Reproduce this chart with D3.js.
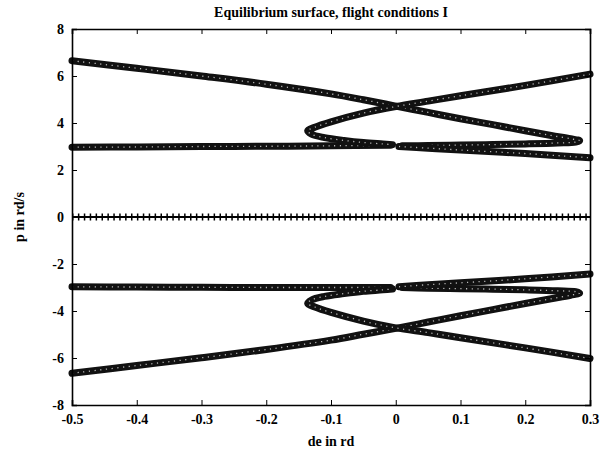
<!DOCTYPE html>
<html>
<head>
<meta charset="utf-8">
<script src="https://cdn.jsdelivr.net/npm/d3@7"></script>
<style>
  body { margin: 0; background: #fff; }
  svg text { font-family: "Liberation Serif", "DejaVu Serif", serif; font-weight: bold; fill: #000; }
</style>
</head>
<body>
<div id="visual"></div>
<script>
// axis ticks
const deTicks = [-0.5, -0.4, -0.3, -0.2, -0.1, 0, 0.1, 0.2, 0.3];
const pTicks = [-8, -6, -4, -2, 0, 2, 4, 6, 8];

// p = 0 branch (plotted with + markers)
const zeroDe = [-0.5, 0.3];
const zeroP = [0, 0];

// upper half branches (o markers)
const upA_de = [-0.5, -0.4, -0.3, -0.2, -0.1, -0.05, 0, 0.05, 0.1, 0.15, 0.2, 0.24, 0.27, 0.284, 0.278, 0.25, 0.2, 0.15, 0.1, 0.05, 0.01];
const upA_p  = [6.65, 6.33, 6.0, 5.65, 5.24, 4.99, 4.72, 4.45, 4.18, 3.93, 3.67, 3.47, 3.33, 3.25, 3.19, 3.15, 3.11, 3.08, 3.06, 3.04, 3.03];

const upFlat_de = [-0.5, -0.4, -0.3, -0.2, -0.1, -0.008];
const upFlat_p  = [2.97, 2.98, 3.0, 3.01, 3.03, 3.05];

const upB_de = [0.3, 0.2, 0.1, 0.05, 0, -0.05, -0.1, -0.125, -0.136, -0.13, -0.11, -0.08, -0.05, -0.02, -0.005];
const upB_p  = [6.08, 5.6, 5.16, 4.93, 4.7, 4.42, 4.05, 3.82, 3.67, 3.52, 3.38, 3.26, 3.17, 3.11, 3.08];

const upC_de = [0.005, 0.05, 0.1, 0.2, 0.3];
const upC_p  = [3.0, 2.93, 2.85, 2.7, 2.52];

// lower half branches
const loA_de = [-0.5, -0.4, -0.3, -0.2, -0.1, -0.05, 0, 0.05, 0.1, 0.15, 0.2, 0.24, 0.27, 0.284, 0.278, 0.25, 0.2, 0.15, 0.1, 0.05, 0.01];
const loA_p  = [-6.65, -6.32, -5.99, -5.64, -5.24, -4.99, -4.74, -4.47, -4.2, -3.94, -3.68, -3.48, -3.33, -3.24, -3.18, -3.14, -3.1, -3.07, -3.05, -3.03, -3.0];

const loFlat_de = [-0.5, -0.4, -0.3, -0.2, -0.1, -0.008];
const loFlat_p  = [-2.97, -2.98, -2.99, -3.0, -3.0, -3.0];

const loB_de = [0.3, 0.2, 0.1, 0.05, 0, -0.05, -0.1, -0.125, -0.136, -0.13, -0.11, -0.08, -0.05, -0.02, -0.005];
const loB_p  = [-6.02, -5.57, -5.14, -4.92, -4.72, -4.43, -4.06, -3.83, -3.68, -3.53, -3.38, -3.26, -3.16, -3.1, -3.06];

const loC_de = [0.005, 0.05, 0.1, 0.2, 0.3];
const loC_p  = [-2.97, -2.88, -2.8, -2.63, -2.43];

const circleBranches = [
	[upA_de, upA_p], [upFlat_de, upFlat_p], [upB_de, upB_p], [upC_de, upC_p],
	[loA_de, loA_p], [loFlat_de, loFlat_p], [loB_de, loB_p], [loC_de, loC_p]
];

const width = 601, height = 460;
const margin = { top: 29, right: 11, bottom: 55, left: 72 };

const svg = d3.select("#visual").append("svg")
	.attr("width", width)
	.attr("height", height);

const x = d3.scaleLinear().domain([-0.5, 0.3]).range([margin.left, width - margin.right]);
const y = d3.scaleLinear().domain([-8, 8]).range([height - margin.bottom, margin.top]);

const line = d3.line()
	.x(d => x(d[0]))
	.y(d => y(d[1]))
	.curve(d3.curveCatmullRom.alpha(0.5));

const zip = (a, b) => a.map((v, i) => [v, b[i]]);

// plain hyphen for negatives, like the original plot
const fmtDe = d => d === 0 ? "0" : d3.format(".1f")(d).replace("\u2212", "-");
const fmtP = d => String(d);

// circle-marker branches: thick black chain with small white centres
const marks = svg.append("g");
circleBranches.forEach(([de, p]) => {
	let pts = zip(de, p);
	marks.append("path")
		.attr("d", line(pts))
		.attr("fill", "none")
		.attr("stroke", "#111")
		.attr("stroke-width", 7)
		.attr("stroke-linecap", "round")
		.attr("stroke-linejoin", "round");
	marks.append("path")
		.attr("d", line(pts))
		.attr("fill", "none")
		.attr("stroke", "#fff")
		.attr("stroke-width", 1.3)
		.attr("stroke-dasharray", "1.2 4.5")
		.attr("opacity", 0.7);
});

// + markers along p = 0
let zeroPts = zip(zeroDe, zeroP);
let straight = d3.line().x(d => x(d[0])).y(d => y(d[1]));
marks.append("path")
	.attr("d", straight(zeroPts))
	.attr("stroke", "#000")
	.attr("stroke-width", 2);
marks.append("path")
	.attr("d", straight(zeroPts))
	.attr("stroke", "#000")
	.attr("stroke-width", 7)
	.attr("stroke-dasharray", "1.5 4.4");

// frame + inward ticks (matlab style)
const tickLen = 5;
svg.append("g")
	.attr("class", "x axis")
	.attr("transform", `translate(0, ${height - margin.bottom})`)
	.call(d3.axisBottom(x).tickValues(deTicks).tickSize(-tickLen).tickPadding(9).tickFormat(fmtDe));
svg.append("g")
	.attr("transform", `translate(0, ${margin.top})`)
	.call(d3.axisTop(x).tickValues(deTicks).tickSize(-tickLen).tickFormat(""));
svg.append("g")
	.attr("class", "y axis")
	.attr("transform", `translate(${margin.left}, 0)`)
	.call(d3.axisLeft(y).tickValues(pTicks).tickSize(-tickLen).tickPadding(8).tickFormat(fmtP));
svg.append("g")
	.attr("transform", `translate(${width - margin.right}, 0)`)
	.call(d3.axisRight(y).tickValues(pTicks).tickSize(-tickLen).tickFormat(""));

svg.selectAll(".domain").attr("stroke", "#000").attr("stroke-width", 1.6);
svg.selectAll(".tick line").attr("stroke", "#000").attr("stroke-width", 1);
svg.selectAll(".tick text").style("font-size", "14px").style("font-weight", "bold");

svg.append("text")
	.attr("x", (margin.left + width - margin.right) / 2)
	.attr("y", 17)
	.attr("text-anchor", "middle")
	.style("font-size", "14px")
	.text("Equilibrium surface, flight conditions I");

svg.append("text")
	.attr("x", (margin.left + width - margin.right) / 2)
	.attr("y", 446)
	.attr("text-anchor", "middle")
	.style("font-size", "14px")
	.text("de in rd");

svg.append("text")
	.attr("transform", `translate(24, ${y(0)}) rotate(-90)`)
	.attr("text-anchor", "middle")
	.style("font-size", "14px")
	.text("p in rd/s");
</script>
</body>
</html>
